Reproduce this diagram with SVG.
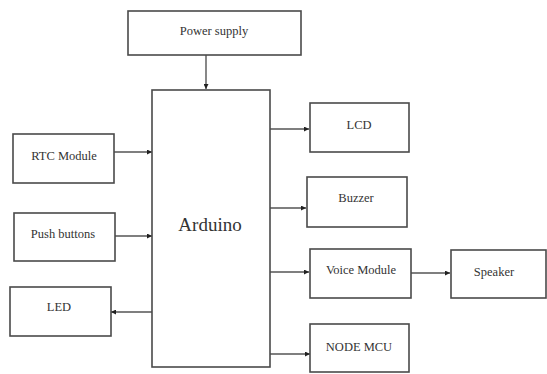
<svg xmlns="http://www.w3.org/2000/svg" width="547" height="374" viewBox="0 0 547 374">
<style>
.box{fill:#fff;stroke:#4a4a4a;stroke-width:1.6}
text{font-family:'Liberation Serif','DejaVu Serif',serif;font-size:12.5px;fill:#333;text-anchor:middle}
.big{font-size:19px}
.c{stroke:#555;stroke-width:1.4;fill:none;marker-end:url(#ah)}
</style>
<defs>
<marker id="ah" viewBox="0 0 6 6" refX="6" refY="3" markerWidth="5" markerHeight="5" markerUnits="userSpaceOnUse" orient="auto">
<path d="M0,0 L6,3 L0,6 z" fill="#222"/>
</marker>
</defs>
<rect width="547" height="374" fill="#fff"/>
<g id="connectors">
<line class="c" x1="206" y1="55" x2="206" y2="89"/>
<line class="c" x1="114" y1="152" x2="152" y2="152"/>
<line class="c" x1="115" y1="236" x2="152" y2="236"/>
<line class="c" x1="152" y1="312" x2="111" y2="312"/>
<line class="c" x1="270" y1="129" x2="309" y2="129"/>
<line class="c" x1="270" y1="208" x2="306" y2="208"/>
<line class="c" x1="270" y1="272" x2="309" y2="272"/>
<line class="c" x1="411" y1="273" x2="450" y2="273"/>
<line class="c" x1="270" y1="354" x2="310" y2="354"/>
</g>
<g id="power"><rect class="box" x="128" y="11" width="173" height="44"/><text x="214" y="35">Power supply</text></g>
<g id="arduino"><rect class="box" x="152" y="90" width="118" height="277"/><text class="big" x="210" y="231">Arduino</text></g>
<g id="rtc"><rect class="box" x="13" y="134" width="101" height="49"/><text x="64" y="160">RTC Module</text></g>
<g id="push"><rect class="box" x="14" y="213" width="101" height="48"/><text x="63" y="238">Push buttons</text></g>
<g id="led"><rect class="box" x="10" y="287" width="101" height="49"/><text x="59" y="311">LED</text></g>
<g id="lcd"><rect class="box" x="310" y="103" width="99" height="49"/><text x="359" y="129">LCD</text></g>
<g id="buzzer"><rect class="box" x="307" y="177" width="100" height="50"/><text x="356" y="202">Buzzer</text></g>
<g id="voice"><rect class="box" x="310" y="249" width="101" height="49"/><text x="361" y="274">Voice Module</text></g>
<g id="speaker"><rect class="box" x="451" y="250" width="95" height="48"/><text x="494" y="276">Speaker</text></g>
<g id="nodemcu"><rect class="box" x="310" y="324" width="99" height="48"/><text x="359" y="351">NODE MCU</text></g>
</svg>
